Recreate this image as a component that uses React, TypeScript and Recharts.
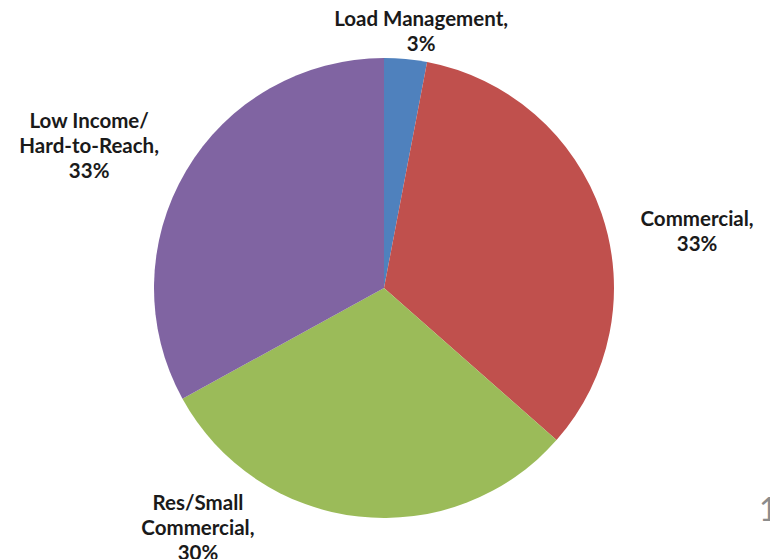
import React from 'react';
import { PieChart, Pie, Cell } from 'recharts';

// Portfolio share by program
const programs = ['Load Management', 'Commercial', 'Res/Small Commercial', 'Low Income/Hard-to-Reach'];
const shares = [3, 33.5, 30.5, 33];
const shareLabels = ['3%', '33%', '30%', '33%'];
const labelLines = [
  ['Load Management,', '3%'],
  ['Commercial,', '33%'],
  ['Res/Small', 'Commercial,', '30%'],
  ['Low Income/', 'Hard-to-Reach,', '33%'],
];
const colors = ['#4F81BD', '#C0504D', '#9BBB59', '#8064A2'];

// where each label block sits: degrees clockwise from 12 o'clock, distance as a share of the radius
const labelAngle = [8.2, 79.6, 217.9, 295.9];
const labelDist = [1.131, 1.384, 1.317, 1.425];

const data = programs.map((name, i) => ({ name, value: shares[i], pct: shareLabels[i] }));

const LINE_H = 25;

const renderLabel = (props: any) => {
  const { cx, cy, outerRadius, index } = props;
  const a = (labelAngle[index] * Math.PI) / 180;
  const r = outerRadius * labelDist[index];
  const x = cx + r * Math.sin(a);
  const y = cy - r * Math.cos(a);
  const lines = labelLines[index];
  const top = y - ((lines.length - 1) * LINE_H) / 2;
  return (
    <text
      x={x}
      y={top}
      textAnchor="middle"
      dominantBaseline="central"
      fill="#1a1a1a"
      fontFamily="Lato, 'Open Sans', sans-serif"
      fontWeight="bold"
      fontSize={20.5}
    >
      {lines.map((l, k) => (
        <tspan key={k} x={x} y={top + k * LINE_H}>
          {l}
        </tspan>
      ))}
    </text>
  );
};

export default function App() {
  return (
    <div style={{ position: 'absolute', left: 0, top: 0, width: 770, height: 559, background: '#fff' }}>
      <PieChart width={770} height={559} margin={{ top: 0, right: 0, bottom: 0, left: 0 }}>
        <Pie
          data={data}
          dataKey="value"
          nameKey="name"
          cx={384}
          cy={288}
          outerRadius={230}
          startAngle={90}
          endAngle={-270}
          stroke="none"
          label={renderLabel}
          labelLine={false}
          isAnimationActive={false}
        >
          {data.map((d, i) => (
            <Cell key={d.name} fill={colors[i]} />
          ))}
        </Pie>
        <text x={759} y={521} fill="#8c8c8c" fontFamily="Lato, sans-serif" fontSize={32}>
          1
        </text>
      </PieChart>
    </div>
  );
}
